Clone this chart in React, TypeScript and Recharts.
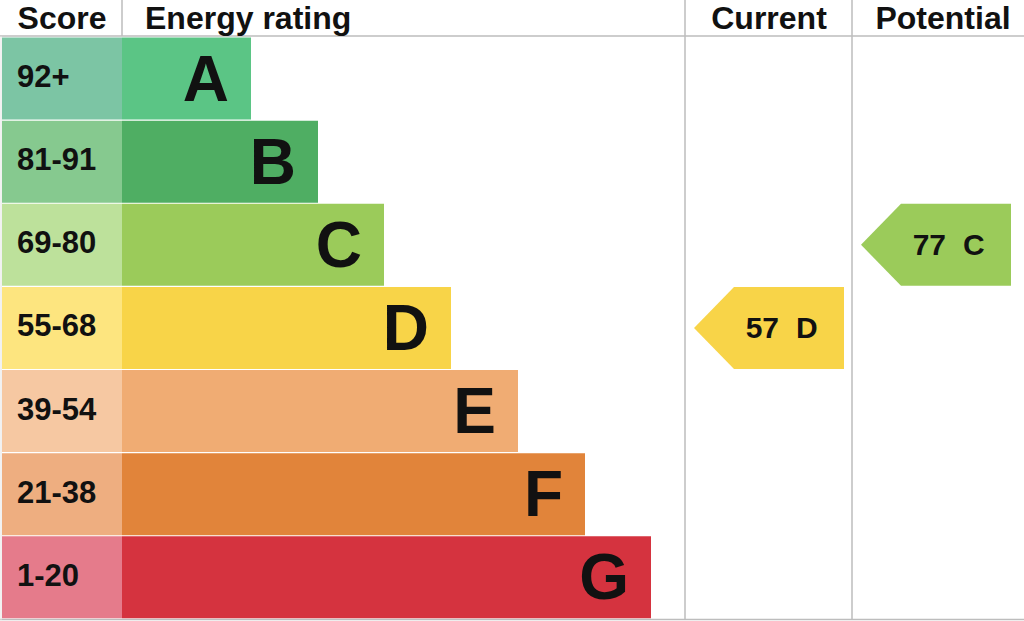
import { BarChart, Bar, XAxis, YAxis, Cell, LabelList, Customized } from 'recharts'

const bands = ['A', 'B', 'C', 'D', 'E', 'F', 'G']
const scoreRanges = ['92+', '81-91', '69-80', '55-68', '39-54', '21-38', '1-20']
// bar lengths (same units as the chart's x axis)
const bandLengths = [129, 196, 262, 329, 396, 463, 529]
const scoreColours = ['#7cc5a4', '#86c98f', '#bde19b', '#fde57f', '#f6c8a2', '#eeae80', '#e57b8b']
const bandColours = ['#5bc585', '#4fae63', '#9bcb5a', '#f8d448', '#f0ac73', '#e1843a', '#d5333f']

const currentScore = 57
const currentBand = 'D'
const potentialScore = 77
const potentialBand = 'C'

const headers = ['Score', 'Energy rating', 'Current', 'Potential']

const W = 1024
const H = 621
const SCORE_COL = 120
const CURRENT_COL = 685
const POTENTIAL_COL = 852
const FONT = '"Liberation Sans", Arial, Helvetica, sans-serif'
const LINE = '#bdbdbd'

const data = bands.map((band, i) => ({
  band,
  range: scoreRanges[i],
  score: SCORE_COL,
  length: bandLengths[i],
  current: band === currentBand ? currentScore : 0,
  potential: band === potentialBand ? potentialScore : 0,
}))

const colourOf = (band: string) => bandColours[bands.indexOf(band)]

// arrow marker in the current / potential column, placed on its band's row
const makeArrow = (colLeft: number, key: 'current' | 'potential') => (props: any) => {
  const { y, height, payload } = props
  if (!payload || !payload[key]) return <g />
  const left = colLeft + 9
  const tip = 40
  const w = 150
  const mid = y + height / 2
  const pts = [
    [left, mid],
    [left + tip, y],
    [left + w, y],
    [left + w, y + height],
    [left + tip, y + height],
  ]
    .map((p) => p.join(','))
    .join(' ')
  return (
    <g fontFamily={FONT} fontWeight="bold" fontSize={30} fill="#111">
      <polygon points={pts} fill={colourOf(payload.band)} />
      <text x={left + 85} y={mid} textAnchor="end" dominantBaseline="central">
        {payload[key]}
      </text>
      <text x={left + 102} y={mid} dominantBaseline="central">
        {payload.band}
      </text>
    </g>
  )
}

const Frame = () => (
  <g fontFamily={FONT} fontWeight="bold" fontSize={32} fill="#111">
    <line x1={0} y1={36} x2={W} y2={36} stroke={LINE} strokeWidth={1.5} />
    <line x1={0} y1={619.5} x2={W} y2={619.5} stroke={LINE} strokeWidth={1.5} />
    <line x1={1} y1={36} x2={1} y2={620} stroke="#e4e4e4" strokeWidth={1} />
    <line x1={122} y1={0} x2={122} y2={36} stroke={LINE} strokeWidth={1.5} />
    <line x1={CURRENT_COL} y1={0} x2={CURRENT_COL} y2={620} stroke={LINE} strokeWidth={1.5} />
    <line x1={POTENTIAL_COL} y1={0} x2={POTENTIAL_COL} y2={620} stroke={LINE} strokeWidth={1.5} />
    <text x={62} y={29} textAnchor="middle">{headers[0]}</text>
    <text x={145} y={29}>{headers[1]}</text>
    <text x={769} y={29} textAnchor="middle">{headers[2]}</text>
    <text x={943} y={29} textAnchor="middle">{headers[3]}</text>
  </g>
)

const RangeLabel = (props: any) => {
  const { x, y, height, value } = props
  return (
    <text
      x={x + 15}
      y={y + height / 2 - 2}
      dominantBaseline="central"
      fontFamily={FONT}
      fontWeight="bold"
      fontSize={31}
      fill="#111"
    >
      {value}
    </text>
  )
}

const BandLabel = (props: any) => {
  const { x, y, width, height, value } = props
  return (
    <text
      x={x + width - 22}
      y={y + height / 2}
      textAnchor="end"
      dominantBaseline="central"
      fontFamily={FONT}
      fontWeight="bold"
      fontSize={64}
      fill="#111"
    >
      {value}
    </text>
  )
}

export default function App() {
  return (
    <div style={{ position: 'absolute', left: 0, top: 0, width: W, height: H, background: '#fff' }}>
      <BarChart
        width={W}
        height={H}
        data={data}
        layout="vertical"
        margin={{ top: 37, right: 0, left: 2, bottom: 2 }}
        barCategoryGap={0.5}
      >
        <XAxis type="number" hide domain={[0, W - 2]} allowDataOverflow />
        <YAxis type="category" dataKey="band" hide />
        <Bar dataKey="score" stackId="epc" isAnimationActive={false}>
          {data.map((d, i) => (
            <Cell key={d.band} fill={scoreColours[i]} />
          ))}
          <LabelList dataKey="range" content={RangeLabel} />
        </Bar>
        <Bar dataKey="length" stackId="epc" isAnimationActive={false}>
          {data.map((d, i) => (
            <Cell key={d.band} fill={bandColours[i]} />
          ))}
          <LabelList dataKey="band" content={BandLabel} />
        </Bar>
        <Bar dataKey="current" stackId="epc" isAnimationActive={false} shape={makeArrow(CURRENT_COL, 'current')} />
        <Bar dataKey="potential" stackId="epc" isAnimationActive={false} shape={makeArrow(POTENTIAL_COL, 'potential')} />
        <Customized component={Frame} />
      </BarChart>
    </div>
  )
}
